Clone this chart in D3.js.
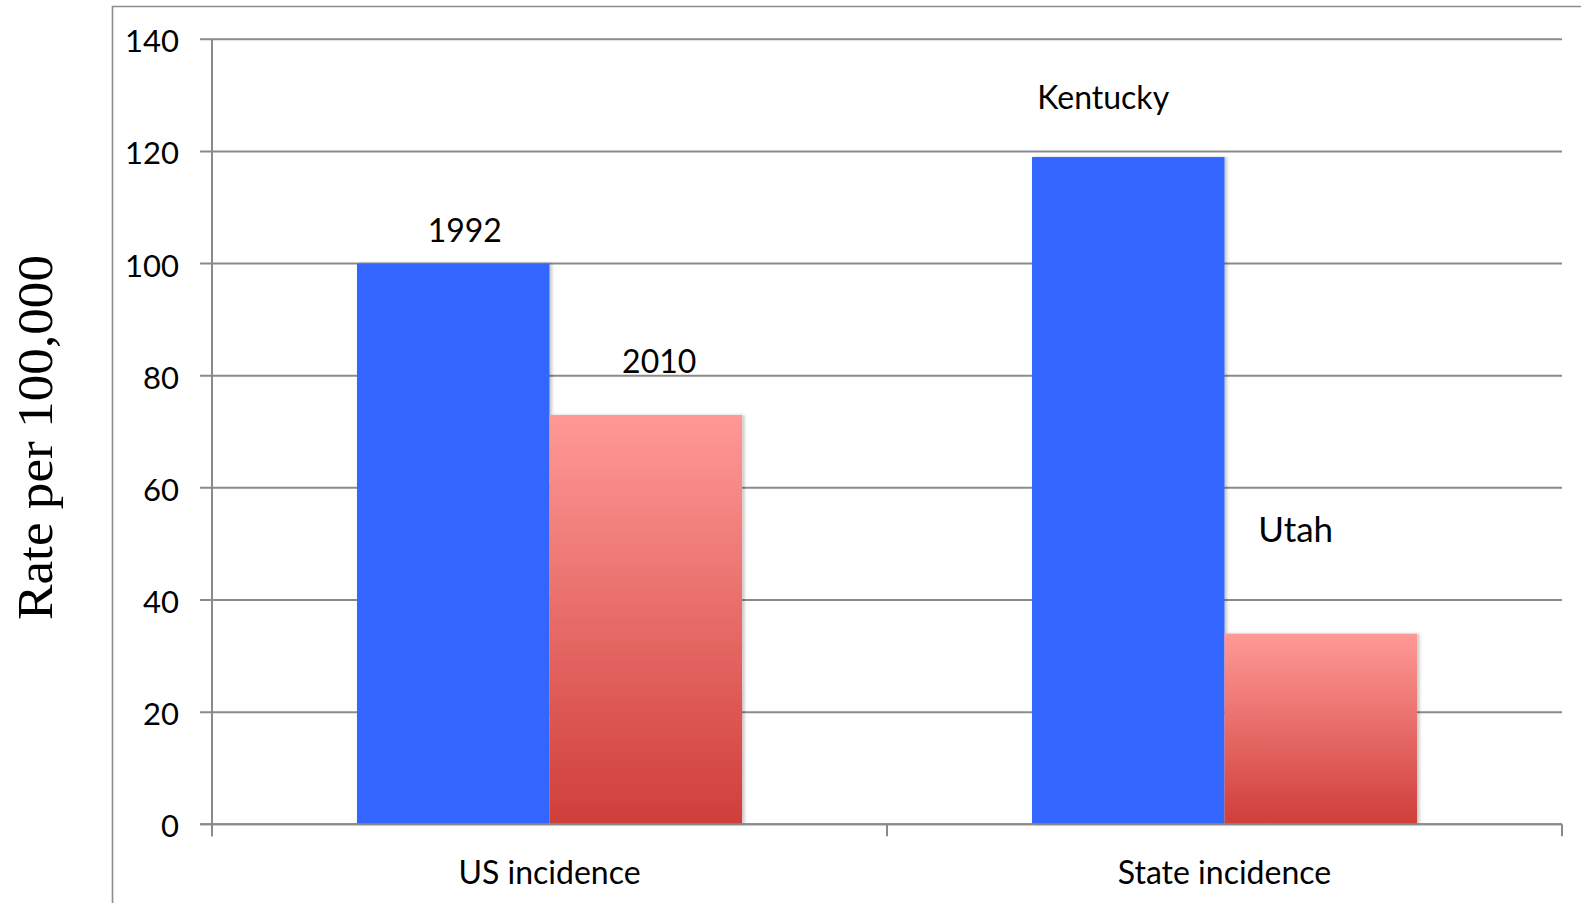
<!DOCTYPE html>
<html>
<head>
<meta charset="utf-8">
<script src="https://cdn.jsdelivr.net/npm/d3@7/dist/d3.min.js"></script>
<style>
  html, body { margin: 0; padding: 0; background: #fff; }
  svg { display: block; }
</style>
</head>
<body>
<svg id="chart" width="1581" height="903"></svg>
<script>
// ---- data ----
const categories = ["US incidence", "State incidence"];
const seriesKeys = ["first", "second"];
const firstValues = [100, 119];   // 1992 / Kentucky
const secondValues = [73, 34];    // 2010 / Utah
const barLabels = [["1992", "2010"], ["Kentucky", "Utah"]];
const yTicks = [0, 20, 40, 60, 80, 100, 120, 140];
const yTitle = "Rate per 100,000";

// label anchors (data units: value for baseline, offset as fraction of bar width)
const labelAnchorValues = [[103.9, 80.4], [127.5, 50.3]];
const labelAnchorShift = [[0.06, 0.07], [-0.13, -0.13]];

// ---- layout ----
const svg = d3.select("#chart");
const plot = { left: 212, right: 1562, top: 39.3, bottom: 824.3 };
const tickLen = 12;
const gridColor = "#8a8a8a";
const font = "Lato, 'Open Sans', sans-serif";

const x0 = d3.scaleBand().domain(categories).range([plot.left, plot.right]).padding(0);
const x1 = d3.scaleBand().domain(seriesKeys).range([0, x0.bandwidth()])
  .paddingInner(0).paddingOuter(0.753);
const y = d3.scaleLinear().domain([0, 140]).range([plot.bottom, plot.top]);

// defs
const defs = svg.append("defs");
const grad = defs.append("linearGradient").attr("id", "redGrad")
  .attr("x1", 0).attr("y1", 0).attr("x2", 0).attr("y2", 1);
grad.append("stop").attr("offset", "0%").attr("stop-color", "#ff9996");
grad.append("stop").attr("offset", "100%").attr("stop-color", "#cf3e3a");
const shadow = defs.append("filter").attr("id", "shadow")
  .attr("x", "-5%").attr("y", "-5%").attr("width", "115%").attr("height", "115%");
shadow.append("feDropShadow").attr("dx", 2.5).attr("dy", 0).attr("stdDeviation", 1.5)
  .attr("flood-color", "#000").attr("flood-opacity", 0.22);

// outer frame
svg.append("path")
  .attr("d", "M112.5,903 L112.5,6.5 L1581,6.5")
  .attr("fill", "none").attr("stroke", "#8c8c8c").attr("stroke-width", 1.6);

// gridlines
svg.append("g").selectAll("line").data(yTicks).join("line")
  .attr("x1", plot.left - tickLen).attr("x2", plot.right)
  .attr("y1", d => y(d)).attr("y2", d => y(d))
  .attr("stroke", gridColor).attr("stroke-width", 2);

// y axis line
svg.append("line")
  .attr("x1", plot.left).attr("x2", plot.left)
  .attr("y1", y(140)).attr("y2", plot.bottom + tickLen)
  .attr("stroke", gridColor).attr("stroke-width", 2);

// x-axis ticks (category boundaries)
const boundaries = [plot.left, ...categories.map(c => x0(c) + x0.bandwidth())];
svg.append("g").selectAll("line").data(boundaries).join("line")
  .attr("x1", d => d).attr("x2", d => d)
  .attr("y1", plot.bottom).attr("y2", plot.bottom + tickLen)
  .attr("stroke", gridColor).attr("stroke-width", 2);

// y tick labels
svg.append("g").selectAll("text").data(yTicks).join("text")
  .attr("x", 179).attr("y", d => y(d) + 13)
  .attr("text-anchor", "end")
  .attr("font-family", font).attr("font-size", 31)
  .attr("fill", "#000")
  .text(d => d);

// bars
const rows = categories.map((c, i) => ({ cat: c, vals: [firstValues[i], secondValues[i]], labels: barLabels[i], i }));
const groups = svg.append("g").selectAll("g").data(rows).join("g")
  .attr("transform", d => `translate(${x0(d.cat)},0)`);

groups.selectAll("rect").data(d => seriesKeys.map((k, j) => ({ key: k, v: d.vals[j] }))).join("rect")
  .attr("x", d => x1(d.key))
  .attr("width", x1.bandwidth())
  .attr("y", d => y(d.v))
  .attr("height", d => y(0) - y(d.v))
  .attr("fill", d => d.key === "first" ? "#3366ff" : "url(#redGrad)")
  .attr("filter", "url(#shadow)");

// redraw zero line on top
svg.append("line")
  .attr("x1", plot.left - tickLen).attr("x2", plot.right)
  .attr("y1", y(0)).attr("y2", y(0))
  .attr("stroke", gridColor).attr("stroke-width", 2);

// bar labels
groups.selectAll("text.lbl").data(d => seriesKeys.map((k, j) => ({
  key: k, text: d.labels[j], v: labelAnchorValues[d.i][j], s: labelAnchorShift[d.i][j], big: d.labels[j] === "Utah"
}))).join("text")
  .attr("class", "lbl")
  .attr("x", d => x1(d.key) + x1.bandwidth() * (0.5 + d.s))
  .attr("y", d => y(d.v))
  .attr("text-anchor", "middle")
  .attr("font-family", font).attr("font-size", d => d.big ? 35 : 32)
  .attr("fill", "#000")
  .text(d => d.text);

// category labels
svg.append("g").selectAll("text").data(categories).join("text")
  .attr("x", d => x0(d) + x0.bandwidth() / 2)
  .attr("y", 884)
  .attr("text-anchor", "middle")
  .attr("font-family", font).attr("font-size", 32)
  .attr("fill", "#000")
  .text(d => d);

// y title
svg.append("text")
  .attr("transform", "translate(51.5,437.5) rotate(-90)")
  .attr("text-anchor", "middle")
  .attr("font-family", "'Liberation Serif', 'DejaVu Serif', serif")
  .attr("font-size", 51)
  .attr("textLength", 365).attr("lengthAdjust", "spacingAndGlyphs")
  .attr("fill", "#000")
  .text(yTitle);
</script>
</body>
</html>
